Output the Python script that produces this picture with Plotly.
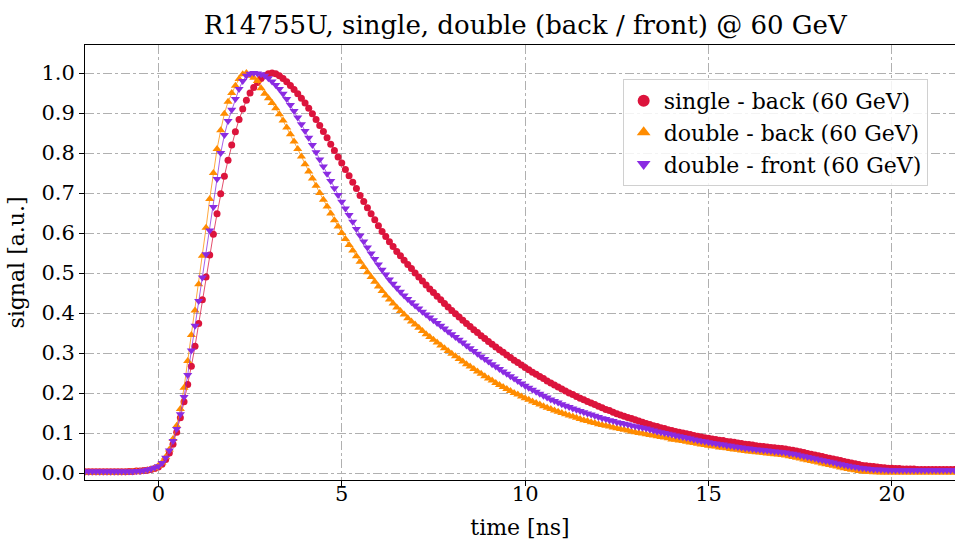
import numpy as np
import plotly.graph_objects as go

# sampling grid of the digitiser traces [ns]
time_ns = np.round(np.arange(-2.0, 21.85, 0.1), 1)

single_back = [
    0.003, 0.003, 0.003, 0.003, 0.003, 0.003, 0.003, 0.003, 0.003, 0.003,
    0.003, 0.003, 0.004, 0.004, 0.005, 0.005, 0.006, 0.007, 0.009, 0.011,
    0.015, 0.022, 0.034, 0.050, 0.072, 0.102, 0.138, 0.178, 0.221, 0.267,
    0.317, 0.374, 0.433, 0.490, 0.545, 0.597, 0.648, 0.698, 0.742, 0.782,
    0.820, 0.853, 0.884, 0.910, 0.932, 0.950, 0.964, 0.976, 0.986, 0.993,
    0.998, 1.000, 0.998, 0.993, 0.986, 0.978, 0.969, 0.959, 0.948, 0.937,
    0.925, 0.912, 0.898, 0.884, 0.869, 0.854, 0.838, 0.822, 0.806, 0.790,
    0.775, 0.759, 0.743, 0.727, 0.711, 0.694, 0.679, 0.663, 0.648, 0.633,
    0.618, 0.604, 0.591, 0.578, 0.566, 0.554, 0.543, 0.532, 0.521, 0.511,
    0.500, 0.490, 0.480, 0.470, 0.460, 0.451, 0.442, 0.433, 0.424, 0.415,
    0.406, 0.398, 0.390, 0.382, 0.374, 0.366, 0.358, 0.351, 0.343, 0.336,
    0.329, 0.322, 0.315, 0.308, 0.302, 0.295, 0.289, 0.282, 0.276, 0.270,
    0.264, 0.258, 0.252, 0.247, 0.241, 0.236, 0.230, 0.225, 0.220, 0.215,
    0.210, 0.205, 0.200, 0.196, 0.191, 0.187, 0.183, 0.179, 0.175, 0.171,
    0.167, 0.163, 0.159, 0.156, 0.152, 0.148, 0.145, 0.142, 0.139, 0.136,
    0.133, 0.130, 0.127, 0.124, 0.121, 0.118, 0.116, 0.113, 0.111, 0.108,
    0.106, 0.104, 0.102, 0.100, 0.098, 0.096, 0.094, 0.092, 0.090, 0.088,
    0.087, 0.085, 0.084, 0.082, 0.081, 0.079, 0.078, 0.077, 0.075, 0.074,
    0.072, 0.071, 0.070, 0.068, 0.067, 0.066, 0.065, 0.064, 0.063, 0.062,
    0.061, 0.060, 0.058, 0.057, 0.055, 0.053, 0.051, 0.049, 0.047, 0.045,
    0.043, 0.041, 0.039, 0.037, 0.035, 0.033, 0.031, 0.029, 0.027, 0.025,
    0.023, 0.021, 0.019, 0.018, 0.017, 0.016, 0.015, 0.014, 0.013, 0.012,
    0.012, 0.011, 0.011, 0.010, 0.010, 0.010, 0.010, 0.009, 0.009, 0.009,
    0.009, 0.009, 0.009, 0.009, 0.009, 0.009, 0.009, 0.009, 0.009,
]

double_back = [
    0.001, 0.001, 0.001, 0.001, 0.001, 0.001, 0.001, 0.001, 0.001, 0.001,
    0.001, 0.002, 0.002, 0.003, 0.003, 0.004, 0.005, 0.007, 0.009, 0.012,
    0.018, 0.026, 0.040, 0.059, 0.085, 0.118, 0.160, 0.213, 0.280, 0.345,
    0.406, 0.472, 0.543, 0.613, 0.685, 0.750, 0.810, 0.857, 0.898, 0.928,
    0.950, 0.968, 0.985, 0.997, 1.000, 0.993, 0.988, 0.980, 0.962, 0.948,
    0.937, 0.925, 0.912, 0.897, 0.881, 0.864, 0.847, 0.829, 0.810, 0.791,
    0.772, 0.754, 0.736, 0.718, 0.700, 0.683, 0.666, 0.649, 0.632, 0.616,
    0.600, 0.585, 0.570, 0.556, 0.542, 0.528, 0.515, 0.502, 0.490, 0.478,
    0.466, 0.455, 0.444, 0.434, 0.424, 0.414, 0.405, 0.396, 0.387, 0.379,
    0.371, 0.363, 0.355, 0.347, 0.340, 0.333, 0.326, 0.319, 0.312, 0.305,
    0.298, 0.292, 0.285, 0.279, 0.272, 0.266, 0.260, 0.254, 0.248, 0.242,
    0.236, 0.231, 0.225, 0.220, 0.215, 0.210, 0.205, 0.200, 0.196, 0.191,
    0.187, 0.183, 0.179, 0.175, 0.171, 0.167, 0.163, 0.160, 0.156, 0.153,
    0.150, 0.147, 0.144, 0.141, 0.138, 0.135, 0.132, 0.130, 0.127, 0.125,
    0.122, 0.120, 0.118, 0.116, 0.114, 0.112, 0.110, 0.108, 0.106, 0.104,
    0.102, 0.100, 0.099, 0.097, 0.095, 0.094, 0.092, 0.090, 0.089, 0.087,
    0.084, 0.083, 0.081, 0.080, 0.078, 0.076, 0.075, 0.073, 0.071, 0.070,
    0.068, 0.067, 0.066, 0.064, 0.063, 0.062, 0.060, 0.059, 0.058, 0.056,
    0.055, 0.054, 0.053, 0.052, 0.051, 0.050, 0.049, 0.048, 0.047, 0.046,
    0.045, 0.044, 0.042, 0.040, 0.038, 0.036, 0.034, 0.032, 0.030, 0.028,
    0.026, 0.024, 0.022, 0.020, 0.018, 0.016, 0.014, 0.012, 0.010, 0.008,
    0.007, 0.005, 0.004, 0.003, 0.003, 0.002, 0.002, 0.001, 0.001, 0.001,
    0.001, 0.001, 0.001, 0.001, 0.001, 0.001, 0.001, 0.001, 0.001, 0.001,
    0.001, 0.001, 0.001, 0.001, 0.001, 0.001, 0.001, 0.001, 0.001,
]

double_front = [
    0.004, 0.004, 0.004, 0.004, 0.004, 0.004, 0.004, 0.004, 0.004, 0.004,
    0.004, 0.004, 0.004, 0.004, 0.005, 0.005, 0.006, 0.008, 0.010, 0.013,
    0.017, 0.025, 0.038, 0.056, 0.080, 0.110, 0.147, 0.190, 0.245, 0.306,
    0.368, 0.430, 0.489, 0.547, 0.606, 0.665, 0.735, 0.800, 0.845, 0.880,
    0.908, 0.935, 0.960, 0.980, 0.993, 0.998, 1.000, 0.999, 0.997, 0.993,
    0.987, 0.979, 0.970, 0.960, 0.948, 0.935, 0.920, 0.905, 0.889, 0.872,
    0.855, 0.838, 0.820, 0.802, 0.784, 0.766, 0.748, 0.730, 0.712, 0.695,
    0.678, 0.661, 0.645, 0.628, 0.610, 0.594, 0.579, 0.564, 0.549, 0.535,
    0.521, 0.508, 0.496, 0.484, 0.473, 0.463, 0.453, 0.444, 0.435, 0.427,
    0.419, 0.411, 0.403, 0.396, 0.389, 0.382, 0.375, 0.368, 0.361, 0.354,
    0.347, 0.340, 0.333, 0.326, 0.319, 0.312, 0.305, 0.298, 0.291, 0.285,
    0.279, 0.272, 0.266, 0.260, 0.254, 0.248, 0.242, 0.236, 0.230, 0.224,
    0.218, 0.213, 0.208, 0.203, 0.198, 0.193, 0.189, 0.184, 0.180, 0.176,
    0.172, 0.168, 0.165, 0.161, 0.158, 0.155, 0.152, 0.149, 0.146, 0.143,
    0.140, 0.137, 0.135, 0.132, 0.130, 0.127, 0.125, 0.123, 0.121, 0.119,
    0.117, 0.115, 0.113, 0.111, 0.109, 0.106, 0.104, 0.102, 0.100, 0.098,
    0.096, 0.094, 0.092, 0.090, 0.088, 0.086, 0.084, 0.082, 0.080, 0.079,
    0.077, 0.075, 0.074, 0.072, 0.071, 0.069, 0.068, 0.066, 0.065, 0.064,
    0.062, 0.061, 0.060, 0.059, 0.058, 0.057, 0.056, 0.055, 0.054, 0.053,
    0.052, 0.051, 0.049, 0.048, 0.046, 0.044, 0.042, 0.040, 0.038, 0.036,
    0.034, 0.032, 0.030, 0.028, 0.026, 0.024, 0.022, 0.020, 0.018, 0.016,
    0.015, 0.013, 0.012, 0.011, 0.010, 0.009, 0.009, 0.008, 0.008, 0.007,
    0.007, 0.007, 0.007, 0.007, 0.007, 0.007, 0.007, 0.007, 0.007, 0.007,
    0.007, 0.007, 0.007, 0.007, 0.007, 0.007, 0.007, 0.007, 0.007,
]

series_names = [
    "single - back (60 GeV)",
    "double - back (60 GeV)",
    "double - front (60 GeV)",
]
series_values = [single_back, double_back, double_front]
series_colors = ["#DC143C", "#FF8C00", "#8A2BE2"]
series_symbols = ["circle", "triangle-up", "triangle-down"]
series_sizes = [7, 8, 8]

x_ticks = [0, 5, 10, 15, 20]
y_ticks = [round(0.1 * i, 1) for i in range(11)]

for vals in series_values:
    if len(vals) != len(time_ns):
        raise ValueError(f"length mismatch: {len(vals)} vs {len(time_ns)}")

FONT = "DejaVu Serif"

fig = go.Figure()
for name, vals, col, sym, sz in zip(series_names, series_values,
                                    series_colors, series_symbols, series_sizes):
    # thin connecting line
    fig.add_trace(go.Scatter(
        x=time_ns, y=vals, mode="lines",
        line=dict(color=col, width=1), opacity=0.75,
        showlegend=False, hoverinfo="skip",
    ))
    # sample markers
    fig.add_trace(go.Scatter(
        x=time_ns, y=vals, mode="markers", name=name,
        marker=dict(symbol=sym, color=col, size=sz, line=dict(width=0)),
    ))

fig.update_layout(
    width=955, height=543,
    margin=dict(l=85, r=0, t=45, b=63),
    paper_bgcolor="white", plot_bgcolor="white",
    font=dict(family=FONT, size=21, color="black"),
    title=dict(
        text="R14755U, single, double (back / front) @ 60 GeV",
        font=dict(family=FONT, size=26, color="black"),
        x=0.55, xanchor="center", y=0.955, yanchor="middle",
    ),
    legend=dict(
        x=0.618, y=0.922, xanchor="left", yanchor="top",
        bgcolor="rgba(255,255,255,0.85)", bordercolor="#d0d0d0", borderwidth=1,
        font=dict(family=FONT, size=22, color="black"),
        itemsizing="constant", tracegroupgap=0,
    ),
)

fig.update_xaxes(
    range=[-2.0, 21.72],
    tickvals=x_ticks, ticktext=[str(v) for v in x_ticks],
    showgrid=True, gridcolor="#b0b0b0", gridwidth=1, griddash="dashdot",
    showline=True, linecolor="black", linewidth=1, mirror=True,
    ticks="outside", ticklen=5, tickcolor="black",
    ticklabelstandoff=-10,
    zeroline=False,
    title=dict(text="time [ns]", font=dict(family=FONT, size=22), standoff=14),
    tickfont=dict(family=FONT, size=21),
)
fig.update_yaxes(
    range=[-0.0175, 1.07],
    tickvals=y_ticks, ticktext=[f"{v:.1f}" for v in y_ticks],
    showgrid=True, gridcolor="#b0b0b0", gridwidth=1, griddash="dashdot",
    showline=True, linecolor="black", linewidth=1, mirror=False,
    ticks="outside", ticklen=5, tickcolor="black",
    zeroline=False,
    title=dict(text="signal [a.u.]", font=dict(family=FONT, size=22), standoff=10),
    tickfont=dict(family=FONT, size=21),
)

fig.write_html("out.html")
